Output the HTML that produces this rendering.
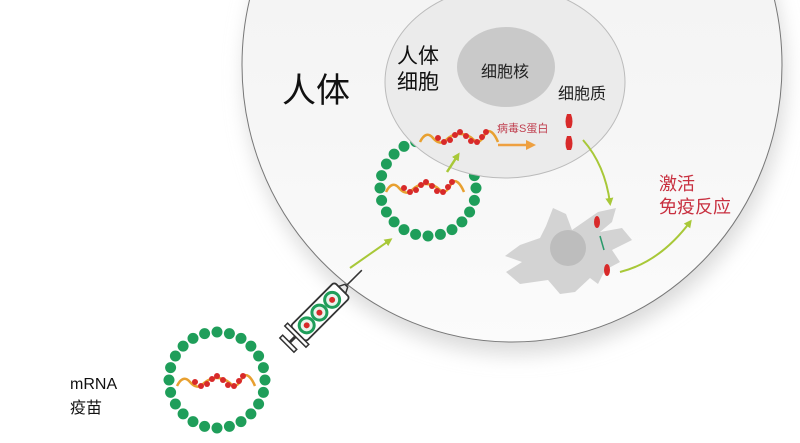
<!DOCTYPE html>
<html><head><meta charset="utf-8"><style>
html,body{margin:0;padding:0;background:#fff}
svg{display:block}
text{font-family:"Liberation Sans","Noto Sans CJK SC",sans-serif}
</style></head><body>
<svg width="800" height="443" viewBox="0 0 800 443" xmlns="http://www.w3.org/2000/svg">
<defs>
<linearGradient id="bg" x1="0" y1="0" x2="0" y2="1">
<stop offset="0" stop-color="#f1f1f1"/><stop offset="0.6" stop-color="#f6f6f6"/><stop offset="1" stop-color="#fbfbfb"/></linearGradient>
<filter id="sh" x="-20%" y="-20%" width="140%" height="150%"><feGaussianBlur stdDeviation="10"/></filter>
<g id="rna">
<path d="M-38,4 Q-32,-8 -25,0 T-12,2 T2,-4 T16,2 T28,-6 Q34,-10 40,4" fill="none" stroke="#e8a030" stroke-width="2.5"/>
<g fill="#d82a2a"><circle cx="-20" cy="0" r="3"/><circle cx="-14" cy="4" r="3"/><circle cx="-8" cy="2" r="3"/><circle cx="-3" cy="-3" r="3"/><circle cx="2" cy="-6" r="3"/><circle cx="8" cy="-2" r="3"/><circle cx="13" cy="3" r="3"/><circle cx="19" cy="4" r="3"/><circle cx="24" cy="-1" r="3"/><circle cx="28" cy="-6" r="3"/></g>
</g>
<g id="ves" fill="#1f9e5a">
<circle cx="48" cy="0" r="5.5"/><circle cx="46.4" cy="12.4" r="5.5"/><circle cx="41.6" cy="24" r="5.5"/><circle cx="33.9" cy="33.9" r="5.5"/><circle cx="24" cy="41.6" r="5.5"/><circle cx="12.4" cy="46.4" r="5.5"/><circle cx="0" cy="48" r="5.5"/><circle cx="-12.4" cy="46.4" r="5.5"/><circle cx="-24" cy="41.6" r="5.5"/><circle cx="-33.9" cy="33.9" r="5.5"/><circle cx="-41.6" cy="24" r="5.5"/><circle cx="-46.4" cy="12.4" r="5.5"/><circle cx="-48" cy="0" r="5.5"/><circle cx="-46.4" cy="-12.4" r="5.5"/><circle cx="-41.6" cy="-24" r="5.5"/><circle cx="-33.9" cy="-33.9" r="5.5"/><circle cx="-24" cy="-41.6" r="5.5"/><circle cx="-12.4" cy="-46.4" r="5.5"/><circle cx="0" cy="-48" r="5.5"/><circle cx="12.4" cy="-46.4" r="5.5"/><circle cx="24" cy="-41.6" r="5.5"/><circle cx="33.9" cy="-33.9" r="5.5"/><circle cx="41.6" cy="-24" r="5.5"/><circle cx="46.4" cy="-12.4" r="5.5"/>
</g>
<marker id="ag" markerWidth="8" markerHeight="8" refX="5" refY="4" orient="auto" markerUnits="userSpaceOnUse"><path d="M0,0 L8,4 L0,8 Z" fill="#a8c838"/></marker>
<marker id="ao" markerWidth="10" markerHeight="10" refX="6" refY="5" orient="auto" markerUnits="userSpaceOnUse"><path d="M0,0 L10,5 L0,10 Z" fill="#eea040"/></marker>
</defs>
<!-- body cell -->
<ellipse cx="515" cy="77" rx="270" ry="277" fill="#dadada" filter="url(#sh)"/>
<ellipse cx="512" cy="65" rx="270" ry="277" fill="url(#bg)" stroke="#777" stroke-width="1"/>
<!-- upper vesicle -->
<use href="#ves" x="428" y="188"/>
<use href="#rna" x="424" y="188"/>
<!-- inner cell -->
<ellipse cx="505" cy="82" rx="120" ry="96" fill="#ebebeb" stroke="#bbb" stroke-width="1"/>
<ellipse cx="506" cy="67" rx="49" ry="40" fill="#c9c9c9"/>
<use href="#rna" x="458" y="138"/>
<!-- texts -->
<text x="282" y="102" font-size="34" fill="#111">人体</text>
<text x="397" y="63" font-size="21" fill="#111">人体</text>
<text x="397" y="89" font-size="21" fill="#111">细胞</text>
<text x="481" y="77" font-size="16" fill="#222">细胞核</text>
<text x="558" y="99" font-size="16" fill="#222">细胞质</text>
<text x="497" y="132" font-size="11" fill="#c04050">病毒S蛋白</text>
<text x="659" y="190" font-size="18" fill="#c83040">激活</text>
<text x="659" y="213" font-size="18" fill="#c83040">免疫反应</text>
<text x="70" y="389" font-size="16" fill="#111">mRNA</text>
<text x="70" y="413" font-size="16" fill="#111">疫苗</text>
<!-- proteins -->
<path d="M567,114 q-3,8 0,14 h4 q3,-6 0,-14 z" fill="#d82a2a"/>
<path d="M567,136 q-3,8 0,14 h4 q3,-6 0,-14 z" fill="#d82a2a"/>
<!-- arrows -->
<line x1="498" y1="145" x2="532" y2="145" stroke="#eea040" stroke-width="2.5" marker-end="url(#ao)"/>
<line x1="447" y1="172" x2="458" y2="155" stroke="#a8c838" stroke-width="2.5" marker-end="url(#ag)"/>
<line x1="350" y1="268" x2="390" y2="240" stroke="#a8c838" stroke-width="2" marker-end="url(#ag)"/>
<path d="M583,140 Q605,165 610,203" fill="none" stroke="#a8c838" stroke-width="2" marker-end="url(#ag)"/>
<path d="M620,272 Q660,262 690,222" fill="none" stroke="#a8c838" stroke-width="2" marker-end="url(#ag)"/>
<!-- immune cell -->
<path d="M553,208 L566,214 L572,230 L598,212 L616,208 L612,222 L600,232 L622,228 L632,240 L612,250 L620,262 L605,270 L598,284 L590,278 L575,292 L560,294 L548,280 L520,284 L506,272 L522,262 L505,256 L520,245 L540,238 L546,226 Z" fill="#d3d3d3"/>
<circle cx="568" cy="248" r="18" fill="#bdbdbd"/>
<ellipse cx="597" cy="222" rx="3" ry="6" fill="#d82a2a"/>
<ellipse cx="607" cy="270" rx="3" ry="6" fill="#d82a2a"/>
<line x1="600" y1="236" x2="604" y2="250" stroke="#2a9a6a" stroke-width="1.5"/>
<!-- syringe -->
<g transform="translate(318,314) rotate(-45)">
<line x1="40" y1="0" x2="62" y2="0" stroke="#333" stroke-width="1.5"/>
<rect x="-28" y="-11" width="62" height="22" rx="3" fill="#fff" stroke="#333" stroke-width="1.8"/>
<path d="M34,-5 L40,-2 L40,2 L34,5" fill="none" stroke="#333" stroke-width="1.5"/>
<circle cx="-16" cy="0" r="9" fill="#1f9e5a"/><circle cx="2" cy="0" r="9" fill="#1f9e5a"/><circle cx="20" cy="0" r="9" fill="#1f9e5a"/>
<circle cx="-16" cy="0" r="6" fill="#e8f4ec"/><circle cx="2" cy="0" r="6" fill="#e8f4ec"/><circle cx="20" cy="0" r="6" fill="#e8f4ec"/>
<circle cx="-16" cy="0" r="3" fill="#d82a2a"/><circle cx="2" cy="0" r="3" fill="#d82a2a"/><circle cx="20" cy="0" r="3" fill="#d82a2a"/>
<line x1="-28" y1="0" x2="-40" y2="0" stroke="#333" stroke-width="3"/>
<rect x="-44" y="-10" width="4" height="20" fill="#fff" stroke="#333" stroke-width="1.5"/>
<rect x="-32" y="-15" width="4" height="30" fill="#fff" stroke="#333" stroke-width="1.5"/>
</g>
<!-- lower vesicle -->
<use href="#ves" x="217" y="380"/>
<use href="#rna" x="215" y="382"/>
</svg>
</body></html>
